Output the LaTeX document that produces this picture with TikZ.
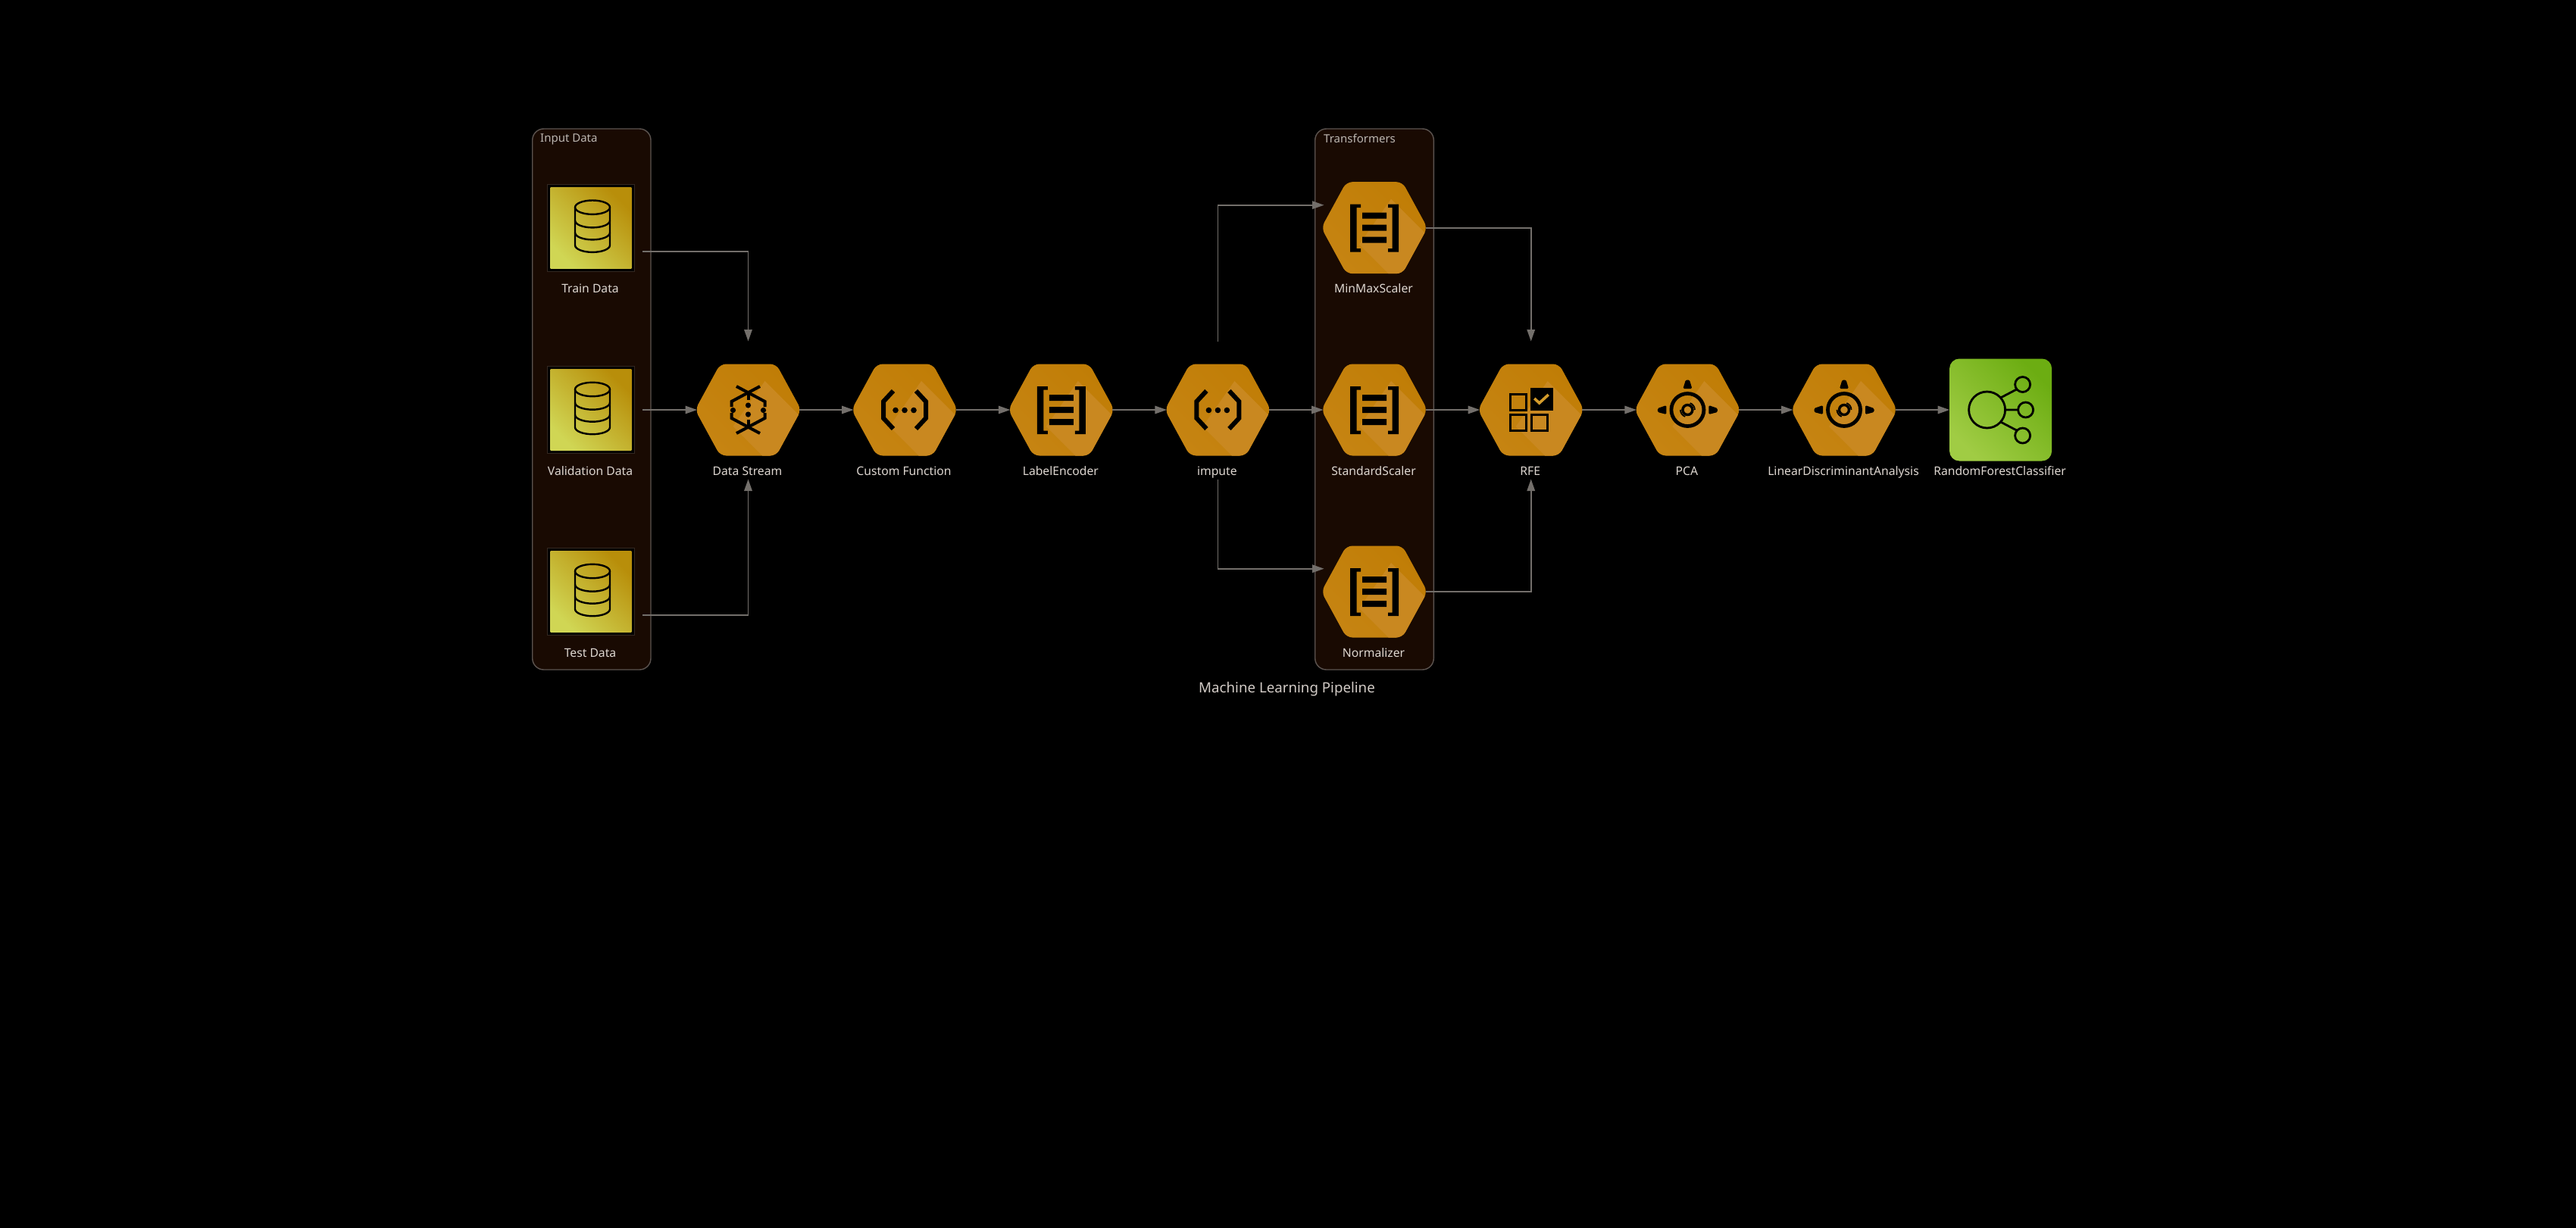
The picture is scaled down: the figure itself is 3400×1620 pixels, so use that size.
\documentclass[tikz,border=0pt]{standalone}
\usepackage{fontspec}
\setmainfont{Noto Sans}
\usetikzlibrary{arrows.meta,calc}

\definecolor{clusterfill}{HTML}{190A02}
\definecolor{clusterline}{HTML}{5C5450}
\definecolor{connline}{HTML}{736F6B}
\definecolor{lbltext}{HTML}{DDD6D0}
\definecolor{hexbase1}{HTML}{C07D06}
\definecolor{hexbase2}{HTML}{C68412}
\definecolor{hexfacet}{HTML}{C98820}
\definecolor{checkcol}{HTML}{D49C2C}
\definecolor{dbdark}{HTML}{B88E0A}
\definecolor{dblight}{HTML}{D0D654}
\definecolor{greendark}{HTML}{6CAD12}
\definecolor{greenlight}{HTML}{A0CC44}

\tikzset{
    hexbox/.style={minimum width=135pt, minimum height=121pt, inner sep=0pt, outer sep=0pt},
    databox/.style={minimum width=116pt, minimum height=121pt, inner sep=0pt, outer sep=0pt},
    lbl/.style={text=lbltext, font=\fontsize{15.7}{18}\selectfont, text height=11pt, text depth=3.5pt, inner sep=0pt, xshift=-1pt},
    clusterbox/.style={fill=clusterfill, draw=clusterline, line width=1.4pt, rounded corners=15pt},
    clustertitle/.style={text=lbltext!85!black, font=\fontsize{15}{17}\selectfont, anchor=west, inner sep=0pt},
    conn/.style={draw=connline, line width=1.6pt, -{Triangle[length=15.5pt,width=10.5pt]}},
    thinline/.style={line width=2.4pt, draw=black},
    thickline/.style={line width=6pt, draw=black},
}

\newcommand{\hexbody}{
    \begin{scope}
        \clip[rounded corners=8pt] (-70,0) -- (-37,-60.5) -- (37,-60.5) -- (70,0) -- (37,60.5) -- (-37,60.5) -- cycle;
        \shade[top color=hexbase1, bottom color=hexbase2, shading angle=-45] (-71,-61) rectangle (71,61);
        \fill[hexfacet] (22,-38) -- (80,20) -- (80,80) -- (38,80) -- (-20,22) -- cycle;
    \end{scope}
}

% icons are drawn round (0,0)
\newcommand{\icolist}{
    \fill[black] (-32,-31) rectangle (-18,-26.5) (-32,-31) rectangle (-23.5,32) (-32,27.5) rectangle (-18,32);
    \fill[black] (32,-31) rectangle (18,-26.5) (32,-31) rectangle (23.5,32) (32,27.5) rectangle (18,32);
    \fill[black] (-16,-20) rectangle (16,-12) (-16,-4) rectangle (16,4) (-16,12) rectangle (16,20);
}
\newcommand{\icofunc}{
    \draw[thickline] (-15,-25) -- (-28,-11) -- (-28,11) -- (-15,25);
    \draw[thickline] (15,-25) -- (28,-11) -- (28,11) -- (15,25);
    \fill[black] (-12,0.5) circle (3.8) (0,0.5) circle (3.8) (12,0.5) circle (3.8);
}
\newcommand{\icostream}{
    \foreach \v in {-1,1}{
        \draw[thickline, line width=4pt] (-15.5,\v*31) -- (22,\v*11) -- (22,\v*4);
        \draw[thickline, line width=4pt] (15.5,\v*31) -- (-22,\v*11) -- (-22,\v*4);
        \draw[thickline, line width=4pt] (0,\v*21) -- (0,\v*13);
        \fill[black] (0,\v*6) circle (3.6);
        \fill[black] (\v*20,0.5) circle (3.6);
    }
}
\newcommand{\icocheck}{
    \draw[black, line width=3pt] (-27.5,-20.5) rectangle (-6.5,0) (-27.5,6.5) rectangle (-6.5,27.5) (0.5,6.5) rectangle (21.5,27.5);
    \fill[black] (-1,-29) rectangle (29,1);
    \draw[checkcol, line width=3.6pt] (4.5,-15) -- (11,-9) -- (23,-20);
}
\newcommand{\icoscope}{
    \draw[black, line width=4.8pt] (0,0) circle (21.5);
    \draw[black, line width=3.4pt] (0,0) circle (6.5);
    \draw[black, line width=1.8pt] (9.5,0) arc (0:-70:9.5) (-9.5,0) arc (180:110:9.5);
    \fill[black, rounded corners=1.5pt] (-2.5,-39.5) -- (2.5,-39.5) -- (6,-28) -- (-6,-28) -- cycle;
    \fill[black, rounded corners=1.5pt] (-39.5,-2) -- (-39.5,3) -- (-28,6) -- (-28,-6) -- cycle;
    \fill[black, rounded corners=1.5pt] (39.5,-2) -- (39.5,3) -- (28,6) -- (28,-6) -- cycle;
}
\newcommand{\icodb}{
    \begin{scope}[shift={(2,-2)}]
        \draw[thinline] (0,-25) ellipse (23 and 9.2);
        \draw[thinline] (-23,-25) -- (-23,25) arc[start angle=180, end angle=0, x radius=23, y radius=9.2] -- (23,-25);
        \draw[thinline] (-23,-7.5) arc[start angle=180, end angle=0, x radius=23, y radius=9.2];
        \draw[thinline] (-23,8.5) arc[start angle=180, end angle=0, x radius=23, y radius=9.2];
    \end{scope}
}

\begin{document}
\begin{tikzpicture}[x=1pt, y=-1pt, label distance=14.5pt]
    \useasboundingbox (0,0) rectangle (3400,1620);
    \fill[black] (-3,-3) rectangle (3403,1623);

    % clusters
    \draw[clusterbox] (702.7,170) rectangle (859,884);
    \draw[clusterbox] (1735.7,170) rectangle (1892.3,884);
    \node[clustertitle] (inputtitle) at (713,184) {Input Data};
    \node[clustertitle] (transtitle) at (1747,183) {Transformers};

    % nodes
    \node[databox, label={[lbl]below:Train Data}] (train) at (780,300.7) {};
    \node[databox, label={[lbl]below:Validation Data}] (valid) at (780,541) {};
    \node[databox, label={[lbl]below:Test Data}] (test) at (780,781) {};
    \node[hexbox, label={[lbl]below:Data Stream}] (dstream) at (987.5,541) {};
    \node[hexbox, label={[lbl]below:Custom Function}] (customf) at (1194,541) {};
    \node[hexbox, label={[lbl]below:LabelEncoder}] (labelenc) at (1400.8,541) {};
    \node[hexbox, label={[lbl]below:impute}] (impute) at (1607.4,541) {};
    \node[hexbox, label={[lbl]below:MinMaxScaler}] (minmax) at (1814,300.7) {};
    \node[hexbox, label={[lbl]below:StandardScaler}] (stdscaler) at (1814,541) {};
    \node[hexbox, label={[lbl]below:Normalizer}] (normal) at (1814,781) {};
    \node[hexbox, label={[lbl]below:RFE}] (rfe) at (2020.7,541) {};
    \node[hexbox, label={[lbl]below:PCA}] (pca) at (2227.4,541) {};
    \node[hexbox, label={[lbl]below:LinearDiscriminantAnalysis}] (lda) at (2434,541) {};
    \node[hexbox, label={[lbl]below:RandomForestClassifier}] (forest) at (2640.6,541) {};
    \node[text=lbltext!95!black, font=\fontsize{18.7}{21}\selectfont, inner sep=0pt] (plottitle) at (1698.5,909.5) {Machine Learning Pipeline};

    % node bodies
    \foreach \n in {train,valid,test}{
        \begin{scope}[shift={(\n)}]
            \fill[clusterline!40!clusterfill] (-58,-58) rectangle (58,58);
            \fill[black] (-56.8,-56.8) rectangle (56.8,56.8);
            \shade[top color=dbdark, bottom color=dblight, shading angle=-45] (-53.3,-53.3) rectangle (53.3,53.3);
            \icodb
        \end{scope}
    }
    \foreach \n/\ico in {dstream/\icostream, customf/\icofunc, labelenc/\icolist, impute/\icofunc, minmax/\icolist, stdscaler/\icolist, normal/\icolist, rfe/\icocheck, pca/\icoscope, lda/\icoscope}{
        \begin{scope}[shift={(\n)}]
            \hexbody
            \ico
        \end{scope}
    }
    \begin{scope}[shift={(forest)}]
        \shade[top color=greendark, bottom color=greenlight, shading angle=-45, rounded corners=13pt] (-67.5,-67.5) rectangle (67.5,67.5);
        \draw[black, line width=2.8pt] (-18,0) circle (24) (29,-33.5) circle (10) (33,0) circle (10) (29,34) circle (10);
        \draw[black, line width=2.8pt] (0,-16) -- (21,-27) (6,0) -- (23,0) (0,16) -- (21,27);
    \end{scope}

    % connectors
    \draw[conn] ($(train.east)+(10,31)$) -| ($(dstream.north)+(0,-30)$);
    \draw[conn] ($(valid.east)+(10,0)$) -- (dstream);
    \draw[conn] ($(test.east)+(10,30.7)$) -| ($(dstream.south)+(0,31)$);
    \draw[conn] (dstream) -- (customf);
    \draw[conn] (customf) -- (labelenc);
    \draw[conn] (labelenc) -- (impute);
    \draw[conn] (impute) -- (stdscaler);
    \draw[conn] ($(impute.north)+(0,-30)$) |- ($(minmax.west)+(1,-30)$);
    \draw[conn] ($(impute.south)+(0,31)$) |- ($(normal.west)+(1,-30.3)$);
    \draw[conn] (minmax.east) -| ($(rfe.north)+(0,-30)$);
    \draw[conn] (stdscaler) -- (rfe);
    \draw[conn] (normal.east) -| ($(rfe.south)+(0,31)$);
    \draw[conn] (rfe) -- (pca);
    \draw[conn] (pca) -- (lda);
    \draw[conn] (lda) -- (forest);
\end{tikzpicture}
\end{document}
